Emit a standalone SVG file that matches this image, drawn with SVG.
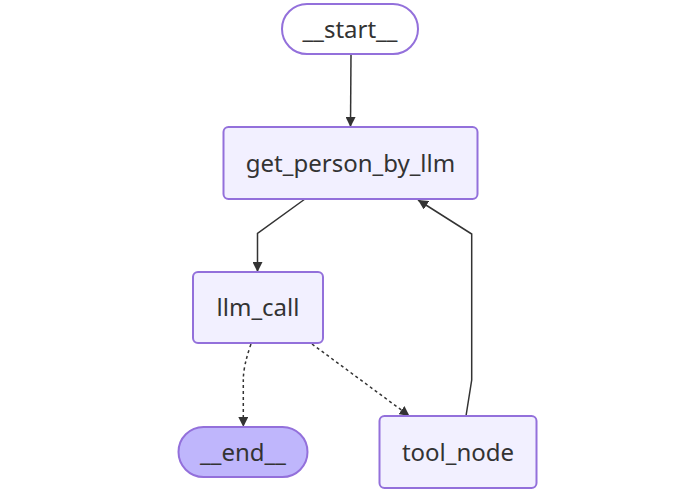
<svg xmlns="http://www.w3.org/2000/svg" width="700" height="491" viewBox="0 0 700 491">
<defs>
<style>
.node rect{fill:#f2f0ff;stroke:#9370db;stroke-width:2}
.node.first rect{fill:#ffffff}
.node.last rect{fill:#bfb6fc}
.node text{font-family:"Source Sans Pro","Noto Sans","Open Sans",sans-serif;font-size:24px;fill:#333;text-anchor:middle;dominant-baseline:central}
.edge{fill:none;stroke:#333;stroke-width:1.5}
.dash{stroke-dasharray:3 3}
</style>
<marker id="arrow" viewBox="0 0 10 10" refX="10" refY="5" markerWidth="10" markerHeight="10" markerUnits="userSpaceOnUse" orient="auto">
<path d="M0,0 L10,5 L0,10 z" fill="#333"/>
</marker>
</defs>
<rect width="700" height="491" fill="#ffffff"/>
<g id="edges">
<path class="edge" d="M351,54 L350.5,127" marker-end="url(#arrow)"/>
<path class="edge" d="M305,199 L257.5,233.5 L257.5,272" marker-end="url(#arrow)"/>
<path class="edge" d="M466,416 L471.7,380 L471.7,234 L418,200" marker-end="url(#arrow)"/>
<path class="edge dash" d="M251,344 Q243.3,366 243.3,380 L243.3,427" marker-end="url(#arrow)"/>
<path class="edge dash" d="M312,344 L409.5,416" marker-end="url(#arrow)"/>
</g>
<g id="start" class="node first">
<rect x="282" y="4" width="136" height="50" rx="25" ry="25"/>
<text x="350" y="28">__start__</text>
</g>
<g id="get_person_by_llm" class="node">
<rect x="223.5" y="127" width="254" height="72" rx="5" ry="5"/>
<text x="350.5" y="162">get_person_by_llm</text>
</g>
<g id="llm_call" class="node">
<rect x="193" y="272" width="130" height="71" rx="5" ry="5"/>
<text x="258" y="306.5">llm_call</text>
</g>
<g id="end" class="node last">
<rect x="178.5" y="427" width="129" height="50" rx="25" ry="25"/>
<text x="243" y="451">__end__</text>
</g>
<g id="tool_node" class="node">
<rect x="379.5" y="416" width="157" height="72" rx="5" ry="5"/>
<text x="458" y="451">tool_node</text>
</g>
</svg>
